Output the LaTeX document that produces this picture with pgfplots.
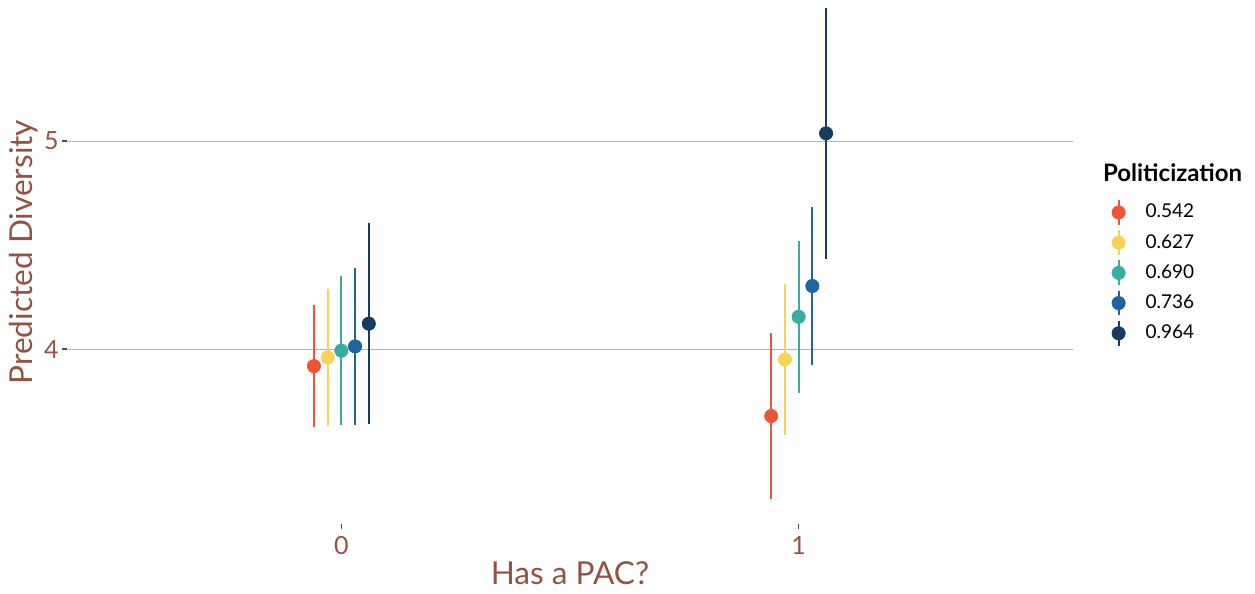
\documentclass[border=0pt]{standalone}
\usepackage{fontspec}
\setmainfont{Lato}
\usepackage{pgfplots}
\pgfplotsset{compat=1.18}

\definecolor{cA}{RGB}{236,85,56}
\definecolor{cB}{RGB}{246,211,88}
\definecolor{cC}{RGB}{60,172,158}
\definecolor{cD}{RGB}{34,99,158}
\definecolor{cE}{RGB}{22,60,96}
\definecolor{labc}{RGB}{148,82,68}

\pgfplotsset{
  pr/.style={only marks, mark=*, mark size=3.3pt, color=#1, forget plot,
    error bars/.cd, y dir=both, y explicit, error mark=none,
    error bar style={line width=1.1pt, color=#1}},
  prleg/.style={legend image code/.code={
    \draw[#1, line width=1.1pt] (0pt,-6.2pt) -- (0pt,6.2pt);
    \fill[#1] (0pt,0pt) circle (3.3pt);}},
}

\begin{document}
\begin{tikzpicture}
\begin{axis}[
  name=ax, scale only axis,
  width=503pt, height=262pt,
  xmin=-0.6, xmax=1.6, ymin=3.159, ymax=5.678,
  xtick={0,1}, ytick={4,5},
  axis line style={draw=none},
  xtick pos=left, ytick pos=left,
  tick align=outside, major tick length=2.5pt,
  tick style={draw=black!70, line width=0.7pt},
  ymajorgrids, grid style={color=black!30, line width=0.5pt},
  /pgf/number format/assume math mode=true,
  ticklabel style={font=\fontsize{12.5}{14}\selectfont, text=labc},
  yticklabel style={inner xsep=1.5pt},
  xlabel={Has a PAC?}, ylabel={Predicted Diversity},
  label style={font=\fontsize{15.8}{17}\selectfont, text=labc},
  xlabel style={at={(axis description cs:0.5,-0.116)}, anchor=base},
  ylabel style={at={(axis description cs:-0.034,0.519)}, anchor=base},
  legend style={at={(axis description cs:1.038,0.621)}, anchor=north west,
    draw=none, fill=none, font=\fontsize{9.5}{11}\selectfont,
    row sep=1.6pt, inner sep=0pt, cells={anchor=west}, nodes={inner sep=1.5pt},
    /tikz/every odd column/.append style={column sep=8.5pt}},
]
\addplot[pr=cA] coordinates {(-0.06,3.918) +- (0,0.294) (0.94,3.678) +- (0,0.398)};
\addplot[pr=cB] coordinates {(-0.03,3.960) +- (0,0.328) (0.97,3.950) +- (0,0.361)};
\addplot[pr=cC] coordinates {(0.00,3.992) +- (0,0.358) (1.00,4.155) +- (0,0.364)};
\addplot[pr=cD] coordinates {(0.03,4.013) +- (0,0.379) (1.03,4.303) +- (0,0.380)};
\addplot[pr=cE] coordinates {(0.06,4.122) +- (0,0.482) (1.06,5.037) +- (0,0.602)};

\addlegendimage{prleg=cA}\addlegendentry{0.542}
\addlegendimage{prleg=cB}\addlegendentry{0.627}
\addlegendimage{prleg=cC}\addlegendentry{0.690}
\addlegendimage{prleg=cD}\addlegendentry{0.736}
\addlegendimage{prleg=cE}\addlegendentry{0.964}
\end{axis}
\node[anchor=base west, font=\bfseries\fontsize{12}{14}\selectfont]
  at ([xshift=11.5pt,yshift=-91pt]ax.north east) {Politicization};
\pgfresetboundingbox
\path[use as bounding box] ([xshift=-33.5pt,yshift=-35pt]ax.south west)
  rectangle ([xshift=91pt]ax.north east);
\end{tikzpicture}
\end{document}
